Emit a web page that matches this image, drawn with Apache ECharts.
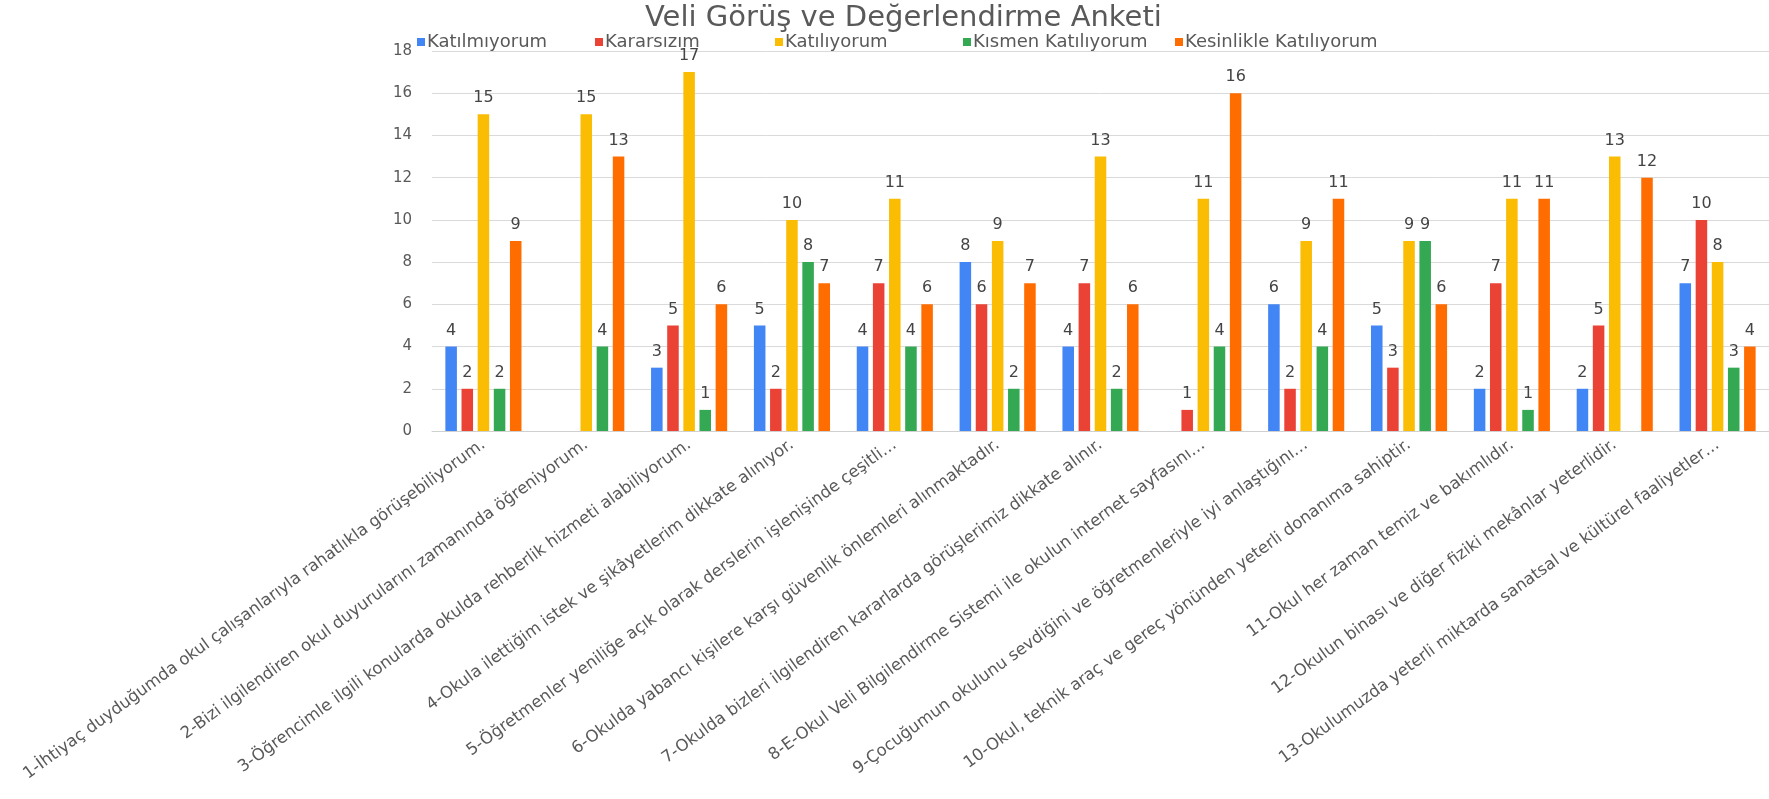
<!DOCTYPE html>
<html>
<head>
<meta charset="utf-8">
<script src="https://cdn.jsdelivr.net/npm/echarts@6/dist/echarts.min.js"></script>
<style>html,body{margin:0;padding:0;background:#fff;}#c{width:1769px;height:799px;}</style>
</head>
<body>
<div id="c"></div>
<script>
const categories = [
  "1-İhtiyaç duyduğumda okul çalışanlarıyla rahatlıkla görüşebiliyorum.",
  "2-Bizi ilgilendiren okul duyurularını zamanında öğreniyorum.",
  "3-Öğrencimle ilgili konularda okulda rehberlik hizmeti alabiliyorum.",
  "4-Okula ilettiğim istek ve şikâyetlerim dikkate alınıyor.",
  "5-Öğretmenler yeniliğe açık olarak derslerin işlenişinde çeşitli…",
  "6-Okulda yabancı kişilere karşı güvenlik önlemleri alınmaktadır.",
  "7-Okulda bizleri ilgilendiren kararlarda görüşlerimiz dikkate alınır.",
  "8-E-Okul Veli Bilgilendirme Sistemi ile okulun internet sayfasını…",
  "9-Çocuğumun okulunu sevdiğini ve öğretmenleriyle iyi anlaştığını…",
  "10-Okul, teknik araç ve gereç yönünden yeterli donanıma sahiptir.",
  "11-Okul her zaman temiz ve bakımlıdır.",
  "12-Okulun binası ve diğer fiziki mekânlar yeterlidir.",
  "13-Okulumuzda yeterli miktarda sanatsal ve kültürel faaliyetler…"
];
const seriesNames = ["Katılmıyorum", "Kararsızım", "Katılıyorum", "Kısmen Katılıyorum", "Kesinlikle Katılıyorum"];
const katilmiyorum = [4, null, 3, 5, 4, 8, 4, null, 6, 5, 2, 2, 7];
const kararsizim   = [2, null, 5, 2, 7, 6, 7, 1, 2, 3, 7, 5, 10];
const katiliyorum  = [15, 15, 17, 10, 11, 9, 13, 11, 9, 9, 11, 13, 8];
const kismen       = [2, 4, 1, 8, 4, 2, 2, 4, 4, 9, 1, null, 3];
const kesinlikle   = [9, 13, 6, 7, 6, 7, 6, 16, 11, 6, 11, 12, 4];
const yTicks = [0, 2, 4, 6, 8, 10, 12, 14, 16, 18];

const colors = ["#4285F4", "#EA4335", "#FBBC04", "#34A853", "#FF6D01"];
const values = [katilmiyorum, kararsizim, katiliyorum, kismen, kesinlikle];
const legendLeft = [412, 590, 770, 958, 1170];
const FONT = "DejaVu Sans";

const chart = echarts.init(document.getElementById('c'), null, {renderer: 'canvas'});
chart.setOption({
  animation: false,
  backgroundColor: '#ffffff',
  color: colors,
  title: {
    text: 'Veli Görüş ve Değerlendirme Anketi',
    left: 640,
    top: -1,
    textStyle: {fontFamily: FONT, fontSize: 29, fontWeight: 'normal', color: '#595959'}
  },
  legend: seriesNames.map((name, i) => ({
    data: [name],
    left: legendLeft[i],
    top: 28,
    itemWidth: 8,
    itemHeight: 8,
    icon: 'rect',
    textStyle: {fontFamily: FONT, fontSize: 18, color: '#595959', padding: [0, 0, 0, -3]}
  })),
  grid: {left: 432, right: 0, top: 51, bottom: 368, containLabel: false},
  xAxis: {
    type: 'category',
    data: categories,
    axisLine: {show: true, lineStyle: {color: '#d0d0d0'}},
    axisTick: {show: false},
    axisLabel: {
      interval: 0,
      rotate: 36,
      margin: 12,
      fontFamily: FONT,
      fontSize: 16.5,
      color: '#595959'
    }
  },
  yAxis: {
    type: 'value',
    min: yTicks[0],
    max: yTicks[yTicks.length - 1],
    interval: 2,
    axisLine: {show: false},
    axisTick: {show: false},
    splitLine: {lineStyle: {color: '#dadada'}},
    axisLabel: {margin: 20, fontFamily: FONT, fontSize: 15, color: '#595959'}
  },
  series: seriesNames.map((name, i) => ({
    name: name,
    type: 'bar',
    data: values[i],
    barGap: '40%',
    barCategoryGap: '26%',
    itemStyle: {color: colors[i]},
    label: {
      show: true,
      position: 'top',
      distance: 8,
      fontFamily: FONT,
      fontSize: 16,
      color: '#444444'
    }
  }))
});
</script>
</body>
</html>
